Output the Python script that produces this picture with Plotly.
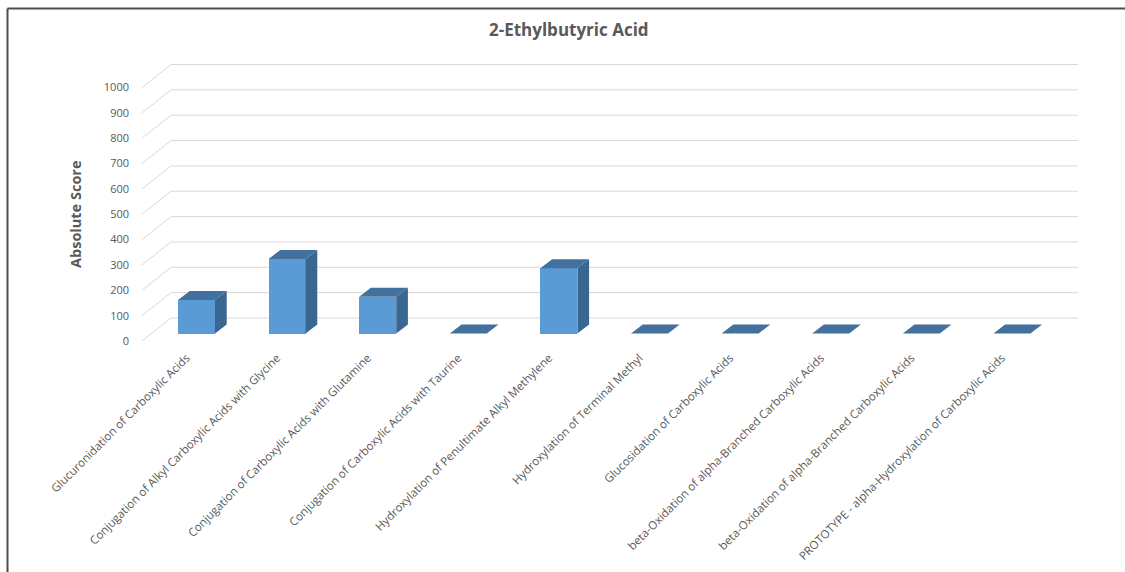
import plotly.graph_objects as go

# ---- chart data -------------------------------------------------------
categories = [
    "Glucuronidation of Carboxylic Acids",
    "Conjugation of Alkyl Carboxylic Acids with Glycine",
    "Conjugation of Carboxylic Acids with Glutamine",
    "Conjugation of Carboxylic Acids with Taurine",
    "Hydroxylation of Penultimate Alkyl Methylene",
    "Hydroxylation of Terminal Methyl",
    "Glucosidation of Carboxylic Acids",
    "beta-Oxidation of alpha-Branched Carboxylic Acids",
    "beta-Oxidation of alpha-Branched Carboxylic Acids",
    "PROTOTYPE - alpha-Hydroxylation of Carboxylic Acids",
]
scores = [132, 294, 145, 0, 257, 0, 0, 0, 0, 0]
tick_values = [0, 100, 200, 300, 400, 500, 600, 700, 800, 900, 1000]

# ---- page / plot geometry (pixels) -----------------------------------
W, H = 1125, 572
PLOT_L, PLOT_R, PLOT_T, PLOT_B = 140, 1080, 60, 341
CAT0_PX, CAT_STEP_PX = 196.5, 90.6      # centre of first column, column pitch
ZERO_PX = 333.5                          # value 0 on the column front plane
UNIT_PX = 0.2535                         # pixels per score unit
BAR_W_PX = 37                            # front face width
DEPTH_DX_PX, DEPTH_DY_PX = 11.7, 9.0     # column depth (right / up)
LABEL_SHIFT_PX = 7.5                     # floor front edge lies below the columns
WALL_SHIFT_PX = 15.5                     # back wall lies above the columns
WALL_LEFT_FRONT_PX, WALL_LEFT_BACK_PX, WALL_RIGHT_PX = 142, 171, 1078


def xd(px):
    return (px - CAT0_PX) / CAT_STEP_PX


def yunits(px):
    return px / UNIT_PX


x_range = [xd(PLOT_L), xd(PLOT_R)]
y_range = [(ZERO_PX - PLOT_B) / UNIT_PX, (ZERO_PX - PLOT_T) / UNIT_PX]
label_shift = yunits(LABEL_SHIFT_PX)
wall_shift = yunits(WALL_SHIFT_PX)


def paper_x(px):
    return (px - PLOT_L) / (PLOT_R - PLOT_L)


def paper_y(py):
    return (PLOT_B - py) / (PLOT_B - PLOT_T)


# ---- gridlines: left side wall + back wall (drawn beneath the columns)
grid_style = dict(color="#D9D9D9", width=1)
shapes = []
for v in tick_values:
    shapes.append(dict(
        type="line", xref="x", yref="y", layer="below",
        x0=xd(WALL_LEFT_FRONT_PX), y0=v - label_shift,
        x1=xd(WALL_LEFT_BACK_PX), y1=v + wall_shift, line=grid_style,
    ))
    shapes.append(dict(
        type="line", xref="x", yref="y", layer="below",
        x0=xd(WALL_LEFT_BACK_PX), y0=v + wall_shift,
        x1=xd(WALL_RIGHT_PX), y1=v + wall_shift, line=grid_style,
    ))

# keep the right page edge plain white
shapes.append(dict(type="rect", xref="paper", yref="paper",
                   x0=paper_x(W - 6), x1=paper_x(W + 2),
                   y0=paper_y(10), y1=paper_y(H + 2),
                   fillcolor="white", line=dict(width=0), layer="above"))

# chart-area border (top and left edges)
border = dict(color="#4D4D4D", width=2)
shapes.append(dict(type="line", xref="paper", yref="paper",
                   x0=paper_x(7.5), x1=paper_x(W),
                   y0=paper_y(8.5), y1=paper_y(8.5), line=border))
shapes.append(dict(type="line", xref="paper", yref="paper",
                   x0=paper_x(7.5), x1=paper_x(7.5),
                   y0=paper_y(8.5), y1=paper_y(H), line=border))

fig = go.Figure()

# ---- columns: front faces --------------------------------------------
idx = list(range(len(categories)))
bw = BAR_W_PX / CAT_STEP_PX
ddx = DEPTH_DX_PX / CAT_STEP_PX
ddy = yunits(DEPTH_DY_PX)

fig.add_trace(go.Bar(
    x=idx, y=scores, width=bw, marker=dict(color="#5B9BD5", line=dict(width=0)),
    hovertext=categories, showlegend=False,
))

# ---- columns: top and right faces ------------------------------------
tx, ty, sx, sy = [], [], [], []
for i, v in zip(idx, scores):
    l, r = i - bw / 2, i + bw / 2
    tx += [l, r, r + ddx, l + ddx, l, None]
    ty += [v, v, v + ddy, v + ddy, v, None]
    if v > 0:
        sx += [r, r + ddx, r + ddx, r, r, None]
        sy += [0, ddy, v + ddy, v, 0, None]

fig.add_trace(go.Scatter(
    x=sx, y=sy, mode="lines", fill="toself", fillcolor="#3A6692",
    line=dict(width=0, color="#3A6692"), hoverinfo="skip", showlegend=False,
))
fig.add_trace(go.Scatter(
    x=tx, y=ty, mode="lines", fill="toself", fillcolor="#41719C",
    line=dict(width=0, color="#41719C"), hoverinfo="skip", showlegend=False,
))

# invisible trace to carry the value-axis labels on the floor front plane
fig.add_trace(go.Scatter(
    x=[None], y=[None], yaxis="y2", showlegend=False, hoverinfo="skip",
))

font_family = "Open Sans, Liberation Sans, sans-serif"

fig.update_layout(
    width=W, height=H,
    margin=dict(l=PLOT_L, r=W - PLOT_R, t=PLOT_T, b=H - PLOT_B, pad=0,
                autoexpand=False),
    paper_bgcolor="white", plot_bgcolor="white",
    bargap=0,
    xaxis=dict(
        range=x_range, tickmode="array", tickvals=idx, ticktext=categories,
        tickangle=-45, showgrid=False, zeroline=False, showline=False,
        ticks="", ticklabelstandoff=7, ticklabelshift=-10, automargin=False,
        tickfont=dict(family=font_family, size=11.5, color="#595959"),
    ),
    yaxis=dict(
        range=y_range, showgrid=False, zeroline=False, showline=False,
        showticklabels=False, ticks="", automargin=False,
    ),
    yaxis2=dict(
        range=[y_range[0] + label_shift, y_range[1] + label_shift],
        overlaying="y", side="left", tickmode="array", tickvals=tick_values,
        showgrid=False, zeroline=False, showline=False, ticks="",
        ticklabelstandoff=10, automargin=False,
        tickfont=dict(family=font_family, size=11, color="#595959"),
    ),
    annotations=[
        dict(
            text="<b>2-Ethylbutyric Acid</b>", xref="paper", yref="paper",
            x=paper_x(569), y=paper_y(30), xanchor="center", yanchor="middle",
            showarrow=False,
            font=dict(family=font_family, size=17, color="#595959"),
        ),
        dict(
            text="<b>Absolute Score</b>", xref="paper", yref="paper",
            x=paper_x(75), y=paper_y(214), xanchor="center", yanchor="middle",
            showarrow=False, textangle=-90,
            font=dict(family=font_family, size=14.5, color="#595959"),
        ),
    ],
    shapes=shapes,
)

fig.write_html("out.html")
